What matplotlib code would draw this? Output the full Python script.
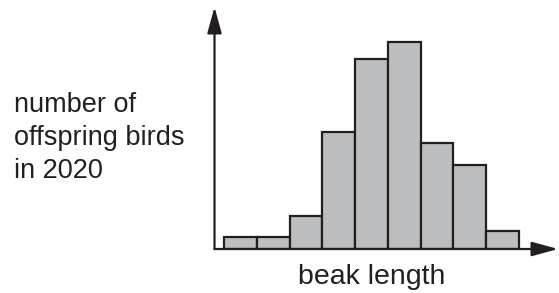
import matplotlib.pyplot as plt

# bar heights (arbitrary units, 9 beak-length bins)
bins = list(range(9))
counts = [12, 12, 33, 117, 190, 207, 106, 84, 18]

W, H = 559, 293
INK = '#231f20'
FILL = '#bcbec0'

plt.rcParams['font.family'] = ['Liberation Sans', 'DejaVu Sans']

fig = plt.figure(figsize=(W / 100, H / 100), dpi=100)

# axes box in pixels: y-axis at x=214.5, x-axis at y=249, arrow tips at 558 / 7
left, right, top, bottom = 214.5, 558, 7, 249
ax = fig.add_axes([left / W, 1 - bottom / H, (right - left) / W, (bottom - top) / H])
ax.set_xlim(-0.29, 10.19)
ax.set_ylim(0, 242)
ax.axis('off')

ax.bar(bins, counts, width=1, align='edge', color=FILL, edgecolor=INK,
       linewidth=1.6, zorder=2)

arrow = dict(arrowstyle='-|>,head_length=0.8,head_width=0.22', color=INK,
             lw=1.6, mutation_scale=20, shrinkA=0, shrinkB=0)
ax.annotate('', xy=(0, 1), xytext=(0, 0), xycoords='axes fraction',
            arrowprops=arrow, zorder=3, annotation_clip=False)
ax.annotate('', xy=(1, 0), xytext=(0, 0), xycoords='axes fraction',
            arrowprops=arrow, zorder=3, annotation_clip=False)

ylabel = ['number of', 'offspring birds', 'in 2020']
for i, line in enumerate(ylabel):
    fig.text(14 / W, 1 - (112 + 33 * i) / H, line, fontsize=19.5, color=INK,
             ha='left', va='baseline')

fig.text(372 / W, 1 - 284 / H, 'beak length', fontsize=20.5, color=INK,
         ha='center', va='baseline')

fig.savefig('out.png', dpi=100)
plt.close(fig)
